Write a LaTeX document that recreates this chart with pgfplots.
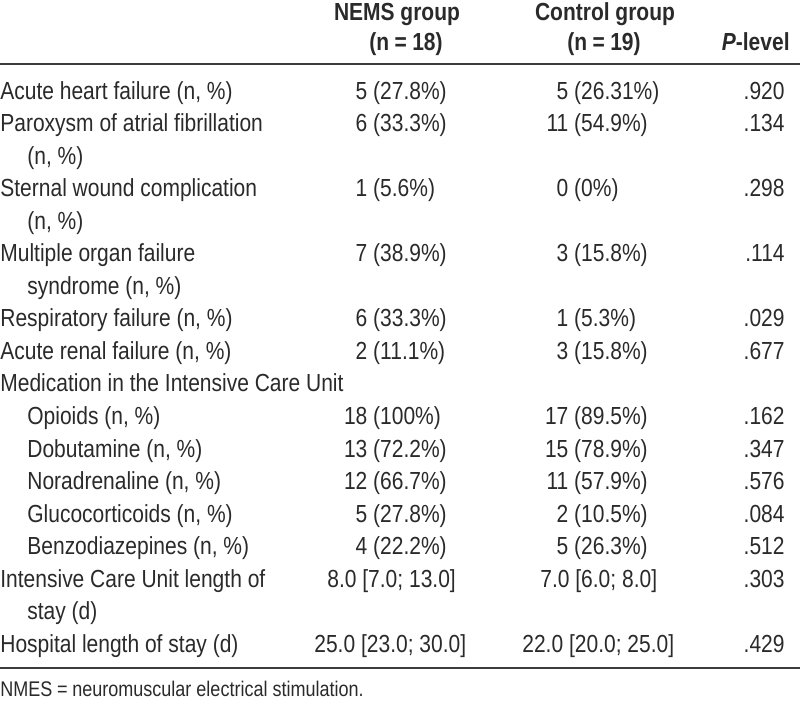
\documentclass[border=0pt]{standalone}
\usepackage{pgfplots}
\pgfplotsset{compat=1.18}
\usepackage{fontspec}
\setmainfont[FakeStretch=0.85]{Liberation Sans}
\definecolor{txt}{HTML}{2A2A2A}
\definecolor{rulec}{HTML}{3C3C3C}
\newcommand\eq{\hspace{0.22em}=\hspace{0.22em}}
\tikzset{cell/.style={font=\fontsize{12.35}{14}\selectfont, text=txt, inner sep=0pt}}
\newcommand\lab[3][0]{\node[cell,anchor=base west] at (axis cs:#1,{99+32.55*#2}) {#3};}
\newcommand\cnt[4]{\node[cell,anchor=base west] at (axis cs:#1,{99+32.55*#2}) {\llap{#3}\ #4};}
\newcommand\pv[2]{\node[cell,anchor=base east] at (axis cs:785,{99+32.55*#1}) {#2};}
\begin{document}
\begin{tikzpicture}
\begin{axis}[name=ax, scale only axis, width=400pt, height=351.5pt,
  xmin=0, xmax=800, ymin=0, ymax=703, y dir=reverse,
  axis lines=none, ticks=none, clip=false]
\addplot[rulec, line width=1pt] coordinates {(0,64) (800,64)};
\addplot[rulec, line width=1.2pt] coordinates {(0,668) (800,668)};
% header
\node[cell,anchor=base] at (axis cs:397,20) {\textbf{NEMS group}};
\node[cell,anchor=base] at (axis cs:406,50) {\textbf{(n\eq 18)}};
\node[cell,anchor=base] at (axis cs:605,20) {\textbf{Control group}};
\node[cell,anchor=base] at (axis cs:604,50) {\textbf{(n\eq 19)}};
\node[cell,anchor=base east] at (axis cs:790,50) {\textbf{\textit{P}-level}};
% rows
\lab{0}{Acute heart failure (n, \%)}
\cnt{367}{0}{5}{(27.8\%)}  \cnt{568}{0}{5}{(26.31\%)}  \pv{0}{.920}
\lab{1}{Paroxysm of atrial fibrillation}
\cnt{367}{1}{6}{(33.3\%)}  \cnt{568}{1}{11}{(54.9\%)}  \pv{1}{.134}
\lab[27]{2}{(n, \%)}
\lab{3}{Sternal wound complication}
\cnt{367}{3}{1}{(5.6\%)}  \cnt{568}{3}{0}{(0\%)}  \pv{3}{.298}
\lab[27]{4}{(n, \%)}
\lab{5}{Multiple organ failure}
\cnt{367}{5}{7}{(38.9\%)}  \cnt{568}{5}{3}{(15.8\%)}  \pv{5}{.114}
\lab[27]{6}{syndrome (n, \%)}
\lab{7}{Respiratory failure (n, \%)}
\cnt{367}{7}{6}{(33.3\%)}  \cnt{568}{7}{1}{(5.3\%)}  \pv{7}{.029}
\lab{8}{Acute renal failure (n, \%)}
\cnt{367}{8}{2}{(11.1\%)}  \cnt{568}{8}{3}{(15.8\%)}  \pv{8}{.677}
\lab{9}{Medication in the Intensive Care Unit}
\lab[27]{10}{Opioids (n, \%)}
\cnt{367}{10}{18}{(100\%)}  \cnt{568}{10}{17}{(89.5\%)}  \pv{10}{.162}
\lab[27]{11}{Dobutamine (n, \%)}
\cnt{367}{11}{13}{(72.2\%)}  \cnt{568}{11}{15}{(78.9\%)}  \pv{11}{.347}
\lab[27]{12}{Noradrenaline (n, \%)}
\cnt{367}{12}{12}{(66.7\%)}  \cnt{568}{12}{11}{(57.9\%)}  \pv{12}{.576}
\lab[27]{13}{Glucocorticoids (n, \%)}
\cnt{367}{13}{5}{(27.8\%)}  \cnt{568}{13}{2}{(10.5\%)}  \pv{13}{.084}
\lab[27]{14}{Benzodiazepines (n, \%)}
\cnt{367}{14}{4}{(22.2\%)}  \cnt{568}{14}{5}{(26.3\%)}  \pv{14}{.512}
\lab{15}{Intensive Care Unit length of}
\lab[327]{15}{8.0 [7.0; 13.0]}  \lab[540]{15}{7.0 [6.0; 8.0]}  \pv{15}{.303}
\lab[27]{16}{stay (d)}
\lab{17}{Hospital length of stay (d)}
\lab[314]{17}{25.0 [23.0; 30.0]}  \lab[522]{17}{22.0 [20.0; 25.0]}  \pv{17}{.429}
% footnote
\node[anchor=base west, inner sep=0pt, text=txt, font=\fontsize{10.6}{12}\selectfont] at (axis cs:0,696.5) {NMES\eq neuromuscular electrical stimulation.};
\end{axis}
\pgfresetboundingbox
\path[use as bounding box] (ax.south west) rectangle (ax.north east);
\end{tikzpicture}
\end{document}
